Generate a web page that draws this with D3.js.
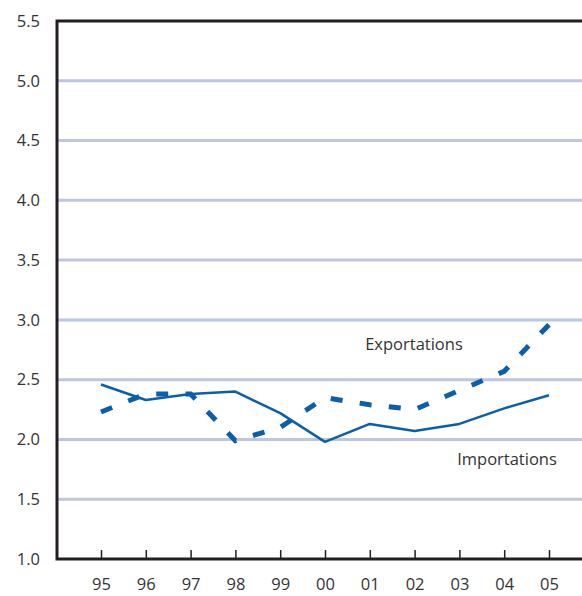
<!DOCTYPE html>
<html><head><meta charset="utf-8">
<script src="https://cdn.jsdelivr.net/npm/d3@7"></script>
<style>body{margin:0;background:#fff}svg{display:block}text{font-family:"Open Sans",sans-serif;fill:#333}</style>
</head><body><svg id="c" width="582" height="596"></svg>
<script>
const years = ["95","96","97","98","99","00","01","02","03","04","05"];
const importations = [2.46,2.33,2.38,2.40,2.22,1.98,2.13,2.07,2.13,2.26,2.37];
const exportations = [2.23,2.38,2.38,1.99,2.10,2.35,2.29,2.25,2.41,2.57,2.96];
const yTicks = [1.0,1.5,2.0,2.5,3.0,3.5,4.0,4.5,5.0,5.5];

const svg = d3.select("#c");
const L=57, R=582, T=21, B=559;
const x = d3.scalePoint().domain(years).range([101,549]);
const y = d3.scaleLinear().domain([1,5.5]).range([B,T]);

// gridlines
svg.append("g").selectAll("line").data(yTicks.filter(d=>d>1&&d<5.5)).join("line")
  .attr("x1",L).attr("x2",R).attr("y1",d=>y(d)).attr("y2",d=>y(d))
  .attr("stroke","#bcc6e2").attr("stroke-width",3);

// frame
svg.append("path").attr("d",`M${R},${T}H${L}V${B}H${R}`).attr("fill","none")
  .attr("stroke","#231f20").attr("stroke-width",3);

// y labels
const yAxis = d3.axisLeft(y).tickValues(yTicks).tickFormat(d3.format(".1f")).tickSize(0).tickPadding(17);
const gy = svg.append("g").attr("transform",`translate(${L},0)`).call(yAxis);
gy.select(".domain").remove();
gy.selectAll("text").attr("font-size",16.5).attr("fill","#333").style("font-family","'Open Sans',sans-serif");

// x axis ticks
const xAxis = d3.axisBottom(x).tickSizeInner(-9).tickSizeOuter(0).tickPadding(19);
const gx = svg.append("g").attr("transform",`translate(0,${B})`).call(xAxis);
gx.select(".domain").remove();
gx.selectAll("line").attr("stroke","#231f20").attr("stroke-width",1.5);
gx.selectAll("text").attr("font-size",16.5).attr("fill","#333").attr("dy","0.71em").style("font-family","'Open Sans',sans-serif");

const line = d3.line().x((d,i)=>x(years[i])).y(d=>y(d));
svg.append("path").datum(importations).attr("d",line).attr("fill","none")
  .attr("stroke","#0a5fab").attr("stroke-width",2.5).attr("stroke-linejoin","round");
const ex = svg.append("path").datum(exportations).attr("d",line).attr("fill","none")
  .attr("stroke","#0a5fab").attr("stroke-width",5);
const len = ex.node().getTotalLength();
const dash = 12, n = Math.round((len-dash)/30), gap = (len-dash)/n - dash;
ex.attr("stroke-dasharray",`${dash},${gap}`);

svg.append("text").attr("x",414).attr("y",350).attr("text-anchor","middle").attr("font-size",16.5).text("Exportations");
svg.append("text").attr("x",507).attr("y",465).attr("text-anchor","middle").attr("font-size",16.5).text("Importations");
</script></body></html>
